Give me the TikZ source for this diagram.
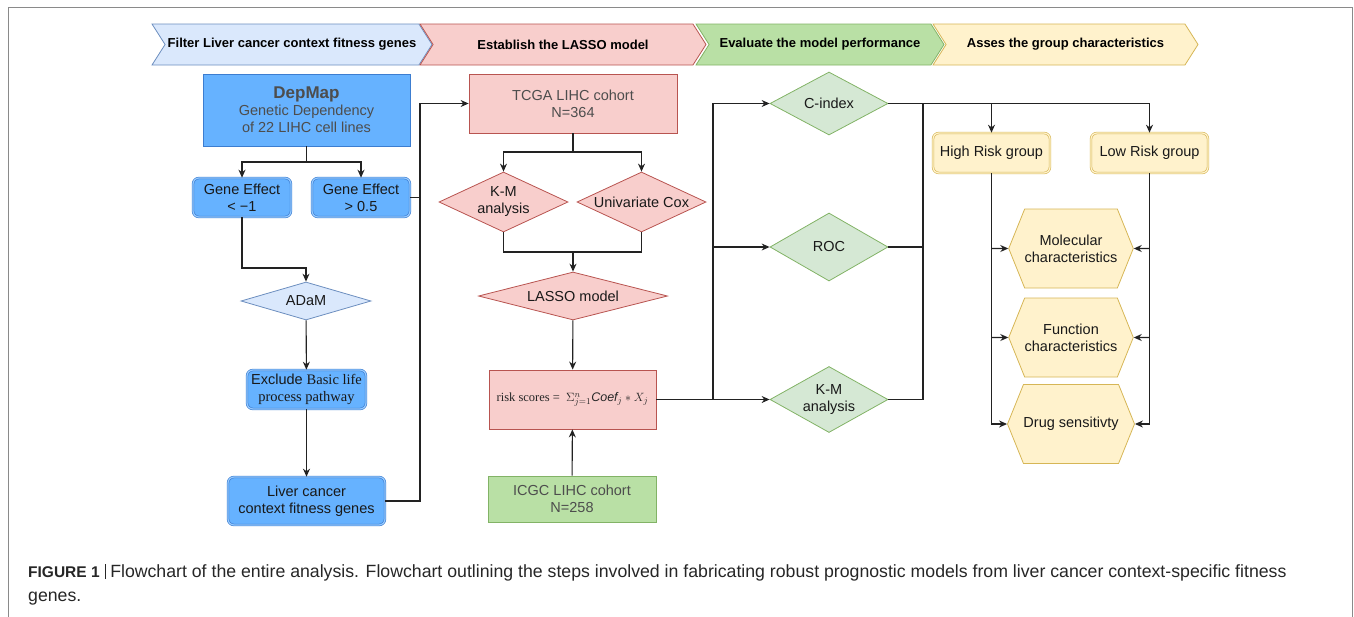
\documentclass[tikz,border=0pt]{standalone}
\usepackage{fontspec}
\setmainfont{Liberation Sans}
\newfontfamily\timesfont{Liberation Serif}
\usepackage{tikz}
\usetikzlibrary{
    shapes.geometric,
    shapes.symbols,
    arrows.meta,
    positioning,
    calc
}
\definecolor{Hblue}{HTML}{DAE8FC}
\definecolor{Dblue}{HTML}{6C8EBF}
\definecolor{Fblue}{HTML}{66B2FF}
\definecolor{Eblue}{HTML}{3C7DD0}
\definecolor{Hred}{HTML}{F8CECC}
\definecolor{Dred}{HTML}{B85450}
\definecolor{Hgreen}{HTML}{D5E8D4}
\definecolor{Mgreen}{HTML}{B9E0A5}
\definecolor{Dgreen}{HTML}{82B366}
\definecolor{Hyel}{HTML}{FFF2CC}
\definecolor{Dyel}{HTML}{D6B656}
\definecolor{Cline}{HTML}{222222}
\definecolor{Cgray}{HTML}{4D4D4D}
\definecolor{Cframe}{HTML}{8A8A8A}
\tikzset{
    hdr/.style={
        signal, signal from=west, signal to=east, signal pointer angle=115,
        line width=0.8pt, minimum height=41pt, inner sep=0pt,
        font=\fontsize{13}{15}\selectfont\bfseries, text=black
    },
    bbox/.style={
        rectangle, draw=Eblue, fill=Fblue, line width=0.8pt,
        align=center, text=Cgray, font=\fontsize{14.5}{17}\selectfont
    },
    bround/.style={
        rectangle, rounded corners=6pt, draw=Eblue, fill=Fblue, line width=0.6pt,
        double=Fblue!70!white, double distance=1.2pt, inner sep=0pt,
        align=center, text=black!90, font=\fontsize{14.5}{17}\selectfont
    },
    cdia/.style={
        diamond, line width=0.8pt, inner sep=0pt, align=center,
        text=black!90, font=\fontsize{14.5}{17}\selectfont
    },
    rbox/.style={
        rectangle, draw=Dred, fill=Hred, line width=0.8pt, inner sep=0pt,
        align=center, text=Cgray, font=\fontsize{14.5}{17}\selectfont
    },
    yround/.style={
        rectangle, rounded corners=6pt, draw=Dyel, fill=Hyel, line width=0.6pt,
        double=Hyel, double distance=1.2pt, inner sep=0pt,
        minimum width=117pt, minimum height=40pt,
        text=black!90, font=\fontsize{14.5}{17}\selectfont
    },
    yhex/.style={
        signal, signal to=west and east, signal pointer angle=136,
        draw=Dyel, fill=Hyel, line width=0.8pt, inner sep=0pt,
        minimum width=118pt, minimum height=79pt, align=center,
        text=black!90, font=\fontsize{14.5}{17}\selectfont
    },
    arr/.style={-{Stealth[length=8pt, width=7pt]}, line width=1.1pt, Cline},
    lnk/.style={line width=1.1pt, Cline},
}
\begin{document}
\begin{tikzpicture}[x=1pt, y=-1pt]
    \useasboundingbox (0,0) rectangle (1354,616);
    \draw [Cframe, line width=1.2pt] (8.5,620) -- (8.5,7.5) -- (1352.5,7.5) -- (1352.5,620);

    % header chevrons
    \node [hdr, fill=Hblue, draw=Dblue, minimum width=280pt] (hfilter) at (292,44.5) {Filter Liver cancer context fitness genes};
    \node [hdr, fill=Hred, draw=Dred, minimum width=286pt] (hlasso) at (563,44.5) {Establish the LASSO model};
    \node [hdr, fill=Mgreen, draw=Dgreen, minimum width=248pt] (heval) at (820,44.5) {Evaluate the model performance};
    \node [hdr, fill=Hyel, draw=Dyel, minimum width=265pt] (hgroup) at (1065.5,44.5) {Asses the group characteristics};

    % left column
    \node [bbox, minimum width=207pt, minimum height=72pt] (depmap) at (306.5,110)
        {{\fontsize{17}{19}\selectfont\bfseries DepMap}\\Genetic Dependency\\of 22 LIHC cell lines};
    \node [bround, minimum width=98pt, minimum height=39pt] (ge1) at (242,197.5) {Gene Effect\\< −1};
    \node [bround, minimum width=98pt, minimum height=39pt] (ge2) at (361,197.5) {Gene Effect\\> 0.5};
    \node [cdia, fill=Hblue, draw=Dblue, minimum width=130pt, minimum height=38pt, aspect=3.4] (adam) at (306,301) {ADaM};
    \node [bround, minimum width=119pt, minimum height=39pt] (excl) at (306.5,389.5)
        {Exclude {\timesfont Basic life}\\{\timesfont process pathway}};
    \node [bround, minimum width=157pt, minimum height=48pt] (liver) at (306.5,501) {Liver cancer\\context fitness genes};

    % middle column
    \node [rbox, minimum width=208pt, minimum height=59pt] (tcga) at (573,103.5) {TCGA LIHC cohort\\N=364};
    \node [cdia, fill=Hred, draw=Dred, minimum width=129pt, minimum height=60pt, aspect=2.15] (km1) at (503.5,202) {K-M\\analysis};
    \node [cdia, fill=Hred, draw=Dred, minimum width=129pt, minimum height=60pt, aspect=2.15] (cox) at (641.5,202) {Univariate Cox};
    \node [cdia, fill=Hred, draw=Dred, minimum width=189pt, minimum height=48pt, aspect=3.9] (lasso) at (573,296) {LASSO model};
    \node [rbox, minimum width=167pt, minimum height=59pt, text=black!85] (risk) at (572.5,399.5)
        {\timesfont\fontsize{12.5}{15}\selectfont risk scores = \ $\Sigma^{n}_{j=1}\mathit{Coef}_{j} * X_{j}$};
    \node [rbox, fill=Mgreen, draw=Dgreen, minimum width=168pt, minimum height=46pt] (icgc) at (572,499) {ICGC LIHC cohort\\N=258};

    % evaluation
    \node [cdia, fill=Hgreen, draw=Dgreen, minimum width=118pt, minimum height=63pt, aspect=1.9] (cidx) at (829,103.5) {C-index};
    \node [cdia, fill=Hgreen, draw=Dgreen, minimum width=118pt, minimum height=68pt, aspect=1.75] (roc) at (829,247) {ROC};
    \node [cdia, fill=Hgreen, draw=Dgreen, minimum width=118pt, minimum height=66pt, aspect=1.8] (km2) at (829,399.5) {K-M\\analysis};

    % groups
    \node [yround] (high) at (991.5,153) {High Risk group};
    \node [yround] (low) at (1149.5,153) {Low Risk group};
    \node [yhex] (mol) at (1071,248.5) {Molecular\\characteristics};
    \node [yhex] (func) at (1071,337.5) {Function\\characteristics};
    \node [yhex] (drug) at (1071,424) {Drug sensitivty};

    % caption
    \node [anchor=base west, align=left, inner sep=0pt, text=black!85,
           font=\fontsize{17.7}{24}\selectfont] (caption) at (28,601)
        {{\fontsize{15.5}{24}\selectfont\textbf{FIGURE 1}}\hspace{5pt}\rule[-2pt]{1.6pt}{15pt}\hspace{4pt}Flowchart of the entire analysis. Flowchart outlining the steps involved in fabricating robust prognostic models from liver cancer context-specific fitness\\genes.};

    % connectors
    \coordinate (dsplit) at (306.5,162);
    \coordinate (ajoin) at (306,268);
    \coordinate (lbend) at (420,501);
    \coordinate (tsplit) at (573,152);
    \coordinate (lmerge) at (573,252);
    \coordinate (rsplit) at (713,399.5);
    \coordinate (mjoin) at (923,103.5);
    \coordinate (gsplit) at (1149.5,103.5);

    \draw [lnk] (depmap) -- (dsplit);
    \draw [arr] (dsplit) -| (ge1);
    \draw [arr] (dsplit) -| (ge2);
    \draw [arr] (ge1) |- (ajoin) -- (adam);
    \draw [arr] (adam) -- (excl);
    \draw [arr] (excl) -- (liver);
    \draw [arr] (liver) -- (lbend) |- (tcga);
    \draw [lnk] (ge2) -- (ge2 -| lbend);

    \draw [lnk] (tcga) -- (tsplit);
    \draw [arr] (tsplit) -| (km1);
    \draw [arr] (tsplit) -| (cox);
    \draw [lnk] (km1) |- (lmerge);
    \draw [lnk] (cox) |- (lmerge);
    \draw [arr] (lmerge) -- (lasso);
    \draw [arr] (lasso) -- (risk);
    \draw [arr] (icgc) -- (risk);

    \draw [lnk] (risk) -- (rsplit);
    \draw [arr] (rsplit) |- (cidx);
    \draw [arr] (rsplit) |- (roc);
    \draw [arr] (rsplit) -- (km2);
    \draw [lnk] (roc) -| (mjoin);
    \draw [lnk] (km2) -| (mjoin);
    \draw [lnk] (cidx) -- (gsplit);
    \draw [arr] (high |- gsplit) -- (high);
    \draw [arr] (gsplit) -- (low);

    \draw [arr] (high) |- (drug);
    \draw [arr] (high |- mol) -- (mol);
    \draw [arr] (high |- func) -- (func);
    \draw [arr] (low) |- (drug);
    \draw [arr] (low |- mol) -- (mol);
    \draw [arr] (low |- func) -- (func);

\end{tikzpicture}
\end{document}
